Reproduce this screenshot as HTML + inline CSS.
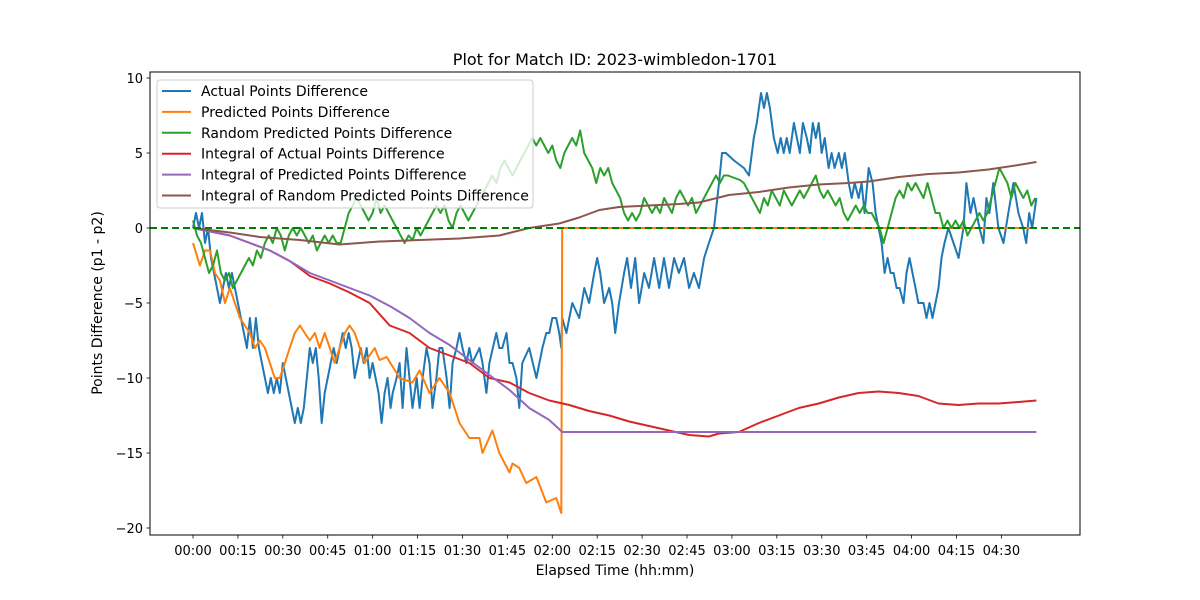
<!DOCTYPE html>
<html><head><meta charset="utf-8">
<style>
html,body{margin:0;padding:0;background:#fff;}
svg{display:block;font-family:"DejaVu Sans","Liberation Sans",sans-serif;}
</style></head>
<body>
<svg id="chart" width="1200" height="600" viewBox="0 0 1200 600">
<rect x="0" y="0" width="1200" height="600" fill="#fff"/>
<text x="615" y="65" text-anchor="middle" font-size="16" fill="#000">Plot for Match ID: 2023-wimbledon-1701</text>
<g id="grid"></g>
<g id="series"></g>
<rect x="150" y="72" width="930" height="463" fill="none" stroke="#000" stroke-width="1"/>
<g id="axes"></g>
<text x="615" y="575" text-anchor="middle" font-size="14" fill="#000">Elapsed Time (hh:mm)</text>
<text transform="translate(102,303) rotate(-90)" text-anchor="middle" font-size="14" fill="#000">Points Difference (p1 - p2)</text>
<g id="legend"></g>
</svg>
<script>
// x in minutes, y in points
const xTickMinutes = [0,15,30,45,60,75,90,105,120,135,150,165,180,195,210,225,240,255,270];
const xTickLabels = ["00:00","00:15","00:30","00:45","01:00","01:15","01:30","01:45","02:00","02:15","02:30","02:45","03:00","03:15","03:30","03:45","04:00","04:15","04:30"];
const yTickValues = [10,5,0,-5,-10,-15,-20];
const yTickLabels = ["10","5","0","\u22125","\u221210","\u221215","\u221220"];
const seriesNames = ["Actual Points Difference","Predicted Points Difference","Random Predicted Points Difference","Integral of Actual Points Difference","Integral of Predicted Points Difference","Integral of Random Predicted Points Difference"];
const seriesColors = ["#1f77b4","#ff7f0e","#2ca02c","#d62728","#9467bd","#8c564b"];

const actualT = [0,1,2,3,4,5,6,7,8,9,10,11,12,13,14,15,16,17,18,19,20,21,22,23,24,25,26,27,28,29,30,31,32,33,34,35,36,37,38,39,40,41,42,43,44,45,46,47,48,49,50,51,52,53,54,55,56,57,58,59,60,61,62,63,64,65,66,66.7,68,69,70,71.3,72.3,73.3,74.7,75.7,76.7,78,79,80,81.3,82.3,83.3,84.7,85.7,86.7,88,89,90,91.3,92.3,93.3,95.7,96.7,98,99,101.3,102.3,103.3,104.7,105.7,106.7,108,109,110,112.3,114.7,115.7,116.7,118,119,120,121.3,122.3,123,123.3,124.7,125.7,126.7,129,130.7,132.3,134,135,136,137.3,139,140,141,142.3,144,145,146.3,147.7,149,150.7,152.3,154,155.7,157.3,159,160.7,162.3,164,165.7,167.3,169,170.7,172.3,174,175.7,176.7,178,180.7,184,185.7,187.3,188.3,189.7,190.7,191.7,192.7,194,195.3,196.3,197.3,198.3,199.3,200.7,201.7,202.7,203.7,205,206,207,208,209,210,211,212.3,213.3,214.3,215.7,216.7,217.7,219,220,221,222.3,223.3,224.3,225.7,227,228,229,230,231,232,233,234,235,236,237.3,238.3,239.3,240.3,241.3,242.3,244,245,246,247,248,249,250,251,252.3,254,255.7,257.3,258.3,259.7,260.7,261.7,262.7,264,265,266,267.3,269,270.7,272.3,274,275.7,277.3,278.3,279.3,280.3,281.7];
const actualV = [0,1,0,1,-1,0,-2,-3,-4,-5,-4,-3,-4,-3,-4,-5,-6,-7,-8,-6,-8,-6,-8,-9,-10,-11,-10,-11,-10,-11,-9,-10,-11,-12,-13,-12,-13,-12,-10,-8,-9,-8,-10,-13,-11,-10,-9,-8,-9,-8,-7,-8,-7,-8,-10,-9,-8,-9,-8,-10,-9,-10,-11,-13,-11,-10,-12,-11,-10,-9,-12,-8,-10,-12,-10,-12,-10,-8,-9,-12,-10,-8,-8,-10,-12,-9,-8,-7,-8,-9,-8,-9,-8,-9,-11,-9,-7,-8,-8,-7,-9,-9,-10,-12,-9,-8,-10,-9,-8,-7,-7,-6,-6,-7,-8,-6,-7,-6,-5,-6,-4,-5,-3,-2,-3,-5,-4,-5,-7,-5,-3,-2,-4,-2,-5,-3,-4,-2,-4,-2,-4,-2,-3,-2,-4,-3,-4,-2,-1,0,3,5,5,4.5,4,3.5,6,7,9,8,9,8,6,5,6,5,6,5,7,6,5,7,6,5,7,6,7,5,6,4,5,4,5,4,5,3,2,3,2,3,1,4,3,1,0,-1,-3,-2,-3,-3,-4,-4,-5,-3,-2,-3,-4,-5,-5,-6,-5,-6,-5,-4,-2,-1,0,-1,-2,0,3,1,2,1,0,-1,2,1,3,0,-1,1,3,1,0,-1,1,0,2];

const predictedT = [0,2.3,4,5.7,7.3,9,10.7,12.3,14,15.7,17.3,19,20.7,22.3,24,25.7,27.3,29,30.7,32.3,34,35.7,37.3,39,40.7,42.3,44,45.7,47.3,49,50.7,52.3,54,55.7,57.3,59,60.7,62.3,64.7,69,73.3,75.7,79,82.3,85.7,89,92.3,95.7,96.7,100,102.3,105.7,106.7,109,111.3,114.7,118,121.3,123,123.3,281.7];
const predictedV = [-1,-2.5,-1.5,-1.5,-3,-3.5,-5,-4,-5,-6,-6.5,-7,-8,-7.5,-8,-9,-10,-10,-9,-8,-7,-6.5,-7,-7.5,-7,-8,-7,-8,-9,-8,-7,-6.5,-7,-8,-9,-8.5,-8,-8.8,-8.6,-10,-10.3,-9.5,-11,-10,-11,-13,-14,-14,-15,-13.5,-15,-16.3,-15.7,-16,-17,-16.6,-18.3,-18,-19,0,0];

const randomStep = 4/3; // minutes between samples
const randomV = [0.5,-0.5,-1,-2,-3,-2.5,-1.5,-3,-3.5,-3,-4,-3.5,-3,-2.5,-2,-2.5,-1.5,-2,-1,-0.5,-1,0,-0.5,-1.5,-0.5,0,-0.5,0,-0.5,-1,-0.5,-1.5,-1,-0.5,-1,-0.5,-1,-1,0,1,1.5,2,1.5,1,0.5,1,2,1,1.5,1,0.5,0,-0.5,-1,-0.5,-0.8,0,-0.5,0,0.5,1,1.5,1,1.5,0.5,0,1,1.5,1,0.5,1,1.5,2,2.5,3,3.5,3,4,4.5,4,3.5,4,4.5,5,5.5,6,5.5,6,5.5,5,5.5,4.5,4,5,5.5,6,5.5,6.5,5,4.5,4,3,4,3.5,4,3,2.5,2,1,0.5,1,0.5,1,2,1.5,1,1.5,1,2,1.5,1,2,2.5,2,1.5,2,1,1.5,2,2.5,3,3.5,3,3.5,3.5,3.4,3.3,3.2,3,2.5,2,1.5,1,2,1.5,2.5,2,1.5,2.5,2,1.5,2,2.5,2,2.5,3,3.5,2.5,2,2.5,2,1.5,2,1,0.5,1,1.5,1,1.5,1,1,0.5,0,-1,0,1,2,2.5,2,3,2.5,3,2.5,2,3,2,1,1,0,0.5,0,0.5,0,0.5,-0.5,0,0.5,1,0.5,1,2,3,4,3.5,3,2,3,2.5,2,2.5,1.5,2];

const intActualT = [0,12.3,19,25.7,32.3,35.7,39,45.7,52.3,59,65.7,72.3,79,85.7,92.3,99,105.7,112.3,119,125.7,132.3,139,145.7,152.3,159,165.7,172.3,175.7,182.3,189,195.7,202.3,209,215.7,222.3,229,235.7,242.3,249,255.7,262.3,269,275.7,281.7];
const intActualV = [0,-0.5,-1,-1.5,-2.2,-2.7,-3.2,-3.7,-4.3,-5,-6.5,-7,-8,-8.5,-9,-10,-10.3,-11,-11.5,-11.8,-12.2,-12.5,-12.9,-13.2,-13.5,-13.8,-13.9,-13.7,-13.6,-13,-12.5,-12,-11.7,-11.3,-11,-10.9,-11,-11.2,-11.7,-11.8,-11.7,-11.7,-11.6,-11.5];

const intPredT = [0,12.3,19,25.7,32.3,39,45.7,52.3,59,65.7,72.3,79,85.7,92.3,99,105.7,112.3,119,123.3,281.7];
const intPredV = [0,-0.5,-1,-1.5,-2.2,-3,-3.5,-4,-4.5,-5.2,-6,-7,-7.8,-8.8,-9.8,-10.8,-12,-12.8,-13.6,-13.6];

const intRandT = [0,12.3,22.3,35.7,49,62.3,75.7,89,102.3,112.3,122.3,129,135.7,142.3,152.3,162.3,169,179,189,199,209,219,225.7,235.7,245.7,255.7,265.7,275.7,281.7];
const intRandV = [0,-0.3,-0.6,-0.8,-1.1,-0.9,-0.8,-0.7,-0.5,0,0.3,0.7,1.2,1.4,1.5,1.6,1.7,2.2,2.4,2.7,2.9,3.0,3.1,3.4,3.6,3.7,3.9,4.2,4.4];

const NS = "http://www.w3.org/2000/svg";
function xScale(m){ return 193 + m * 2.994; }
function yScale(v){ return 228 - v * 15; }
function mk(tag, attrs, parent){ const e=document.createElementNS(NS,tag); for(const k in attrs) e.setAttribute(k,attrs[k]); parent.appendChild(e); return e; }

const axes = document.getElementById('axes');
xTickMinutes.forEach((m,i)=>{
  const x = xScale(m);
  const t = mk('line',{x1:x,x2:x,y1:535,y2:538.5,stroke:'#000','stroke-width':0.8},axes);
  
  
  const lb = mk('text',{x:x,y:555,'text-anchor':'middle','font-size':13,fill:'#000'},axes);
  lb.textContent = xTickLabels[i];
  
  
});
yTickValues.forEach((v,i)=>{
  const y = yScale(v);
  const t = mk('line',{x1:146.5,x2:150,y1:y,y2:y,stroke:'#000','stroke-width':0.8},axes);
  
  
  const lb = mk('text',{x:143,y:y+5,'text-anchor':'end','font-size':13,fill:'#000'},axes);
  lb.textContent = yTickLabels[i];
  
  
});

const series = document.getElementById('series');
function drawLine(T,V,color,name){
  const pts = T.map((t,i)=>xScale(t).toFixed(1)+','+yScale(V[i]).toFixed(1)).join(' ');
  const p = mk('polyline',{points:pts,fill:'none',stroke:color,'stroke-width':2,'stroke-linejoin':'round'},series);
  
  
}
const randomT = randomV.map((v,i)=>i*randomStep);
drawLine(actualT,actualV,seriesColors[0],'actual-points-line');
drawLine(predictedT,predictedV,seriesColors[1],'predicted-points-line');
drawLine(randomT,randomV,seriesColors[2],'random-predicted-line');
drawLine(intActualT,intActualV,seriesColors[3],'integral-actual-line');
drawLine(intPredT,intPredV,seriesColors[4],'integral-predicted-line');
drawLine(intRandT,intRandV,seriesColors[5],'integral-random-line');
const zl = mk('line',{x1:150,x2:1080,y1:yScale(0),y2:yScale(0),stroke:'#008000','stroke-width':2,'stroke-dasharray':'7,4'},series);



const lg = document.getElementById('legend');
const box = mk('rect',{x:157,y:80,width:376,height:128,rx:3,fill:'#fff','fill-opacity':0.8,stroke:'#ccc','stroke-width':1},lg);


seriesNames.forEach((n,i)=>{
  const y = 91 + i*20.9;
  const l = mk('line',{x1:162,x2:191,y1:y,y2:y,stroke:seriesColors[i],'stroke-width':2},lg);
  
  
  const t = mk('text',{x:201,y:y+5,'font-size':14,fill:'#000'},lg);
  t.textContent = n;
  
  
});
</script>
</body></html>
